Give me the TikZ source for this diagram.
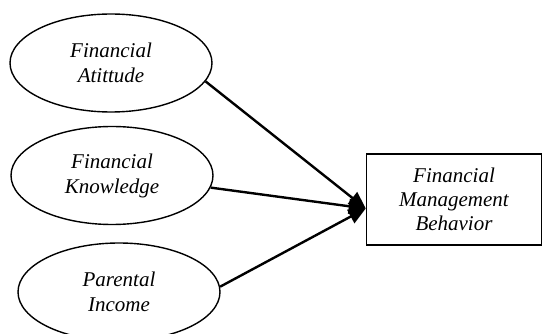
\documentclass[tikz,border=0pt]{standalone}
\usepackage{fontspec}
\setmainfont{Liberation Serif}
\usetikzlibrary{shapes.geometric,arrows.meta}
\begin{document}
\begin{tikzpicture}[x=1pt,y=-1pt,construct/.style={shape=ellipse,draw=black,line width=1.4pt,minimum width=202pt,minimum height=98pt,inner sep=0pt,align=center,font=\fontsize{21}{25}\selectfont\itshape},outcome/.style={shape=rectangle,draw=black,line width=1.6pt,minimum width=175pt,minimum height=91pt,inner sep=0pt,align=center,font=\fontsize{21}{24}\selectfont\itshape},influences/.style={line width=2.4pt,-{Triangle[length=17pt,width=15pt]}}]
\useasboundingbox (0,0) rectangle (542,334);
\node[construct] (fa) at (111,63) {Financial\\Atittude};
\node[construct] (fk) at (112,175.5) {Financial\\Knowledge};
\node[construct] (pi) at (119,292) {Parental\\Income};
\node[outcome] (fmb) at (454,199.5) {Financial\\Management\\Behavior};
\coordinate (tip) at ([yshift=-9pt]fmb.west);
\draw[influences] (fa.-11) -- (tip);
\draw[influences] (fk.-7) -- (tip);
\draw[influences] (pi.3) -- (tip);
\end{tikzpicture}
\end{document}
